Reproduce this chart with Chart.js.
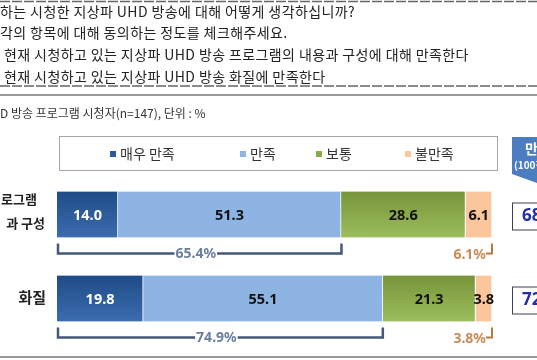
<!DOCTYPE html>
<html>
<head>
<meta charset="utf-8">
<script src="https://cdn.jsdelivr.net/npm/chart.js@4.4.1/dist/chart.umd.min.js"></script>
<style>
  html, body { margin: 0; padding: 0; background: #fff; }
  #wrap { position: relative; width: 537px; height: 360px; }
</style>
</head>
<body>
<div id="wrap"><canvas id="myChart" width="537" height="360"></canvas></div>
<script>
// data
const categories = ["프로그램 내용과 구성", "화질"];
const seriesNames = ["매우 만족", "만족", "보통", "불만족"];
const veryGood = [14.0, 19.8];
const good = [51.3, 55.1];
const normal = [28.6, 21.3];
const bad = [6.1, 3.8];
const satisfiedTotal = [65.4, 74.9];
const unsatisfiedTotal = [6.1, 3.8];
const scores = ["68", "72"];

const colors = ["#2b5a98", "#8eb4e3", "#8aab48", "#fbc69b"];
const labelColors = ["#fff", "#111", "#111", "#111"];
const KR = "'Noto Sans CJK KR', 'Noto Sans', sans-serif";

// gradient per bar (top darker, bottom lighter) for the dark blue and green parts
function barFill(i) {
  return function (ctx) {
    const chart = ctx.chart;
    const y = chart.scales && chart.scales.y;
    if (!y || ctx.dataIndex === undefined || (i !== 0 && i !== 2)) return colors[i];
    const cy = y.getPixelForValue(ctx.dataIndex);
    if (!isFinite(cy)) return colors[i];
    const g = chart.ctx.createLinearGradient(0, cy - 23, 0, cy + 23);
    if (i === 0) {
      g.addColorStop(0, "#1f4c88");
      g.addColorStop(1, "#3b6cae");
    } else {
      g.addColorStop(0, "#76953a");
      g.addColorStop(1, "#9cbd5c");
    }
    return g;
  };
}

const seriesData = [veryGood, good, normal, bad];
const datasets = seriesData.map((d, i) => ({
  label: seriesNames[i],
  data: d,
  backgroundColor: barFill(i),
  borderColor: "#ffffff",
  borderWidth: { right: 1, left: 0, top: 0, bottom: 0 },
  borderSkipped: false,
  barThickness: 46,
}));

function dashed(ctx, y) {
  ctx.save();
  ctx.strokeStyle = "#666";
  ctx.lineWidth = 1.5;
  ctx.setLineDash([10, 2]);
  ctx.beginPath();
  ctx.moveTo(0, y);
  ctx.lineTo(537, y);
  ctx.stroke();
  ctx.restore();
}

const decor = {
  id: "decor",
  beforeDraw(chart) {
    const ctx = chart.ctx;
    ctx.save();
    ctx.fillStyle = "#fff";
    ctx.fillRect(0, 0, chart.width, chart.height);

    // question text
    dashed(ctx, 1.5);
    ctx.fillStyle = "#222";
    ctx.font = "14px " + KR;
    ctx.letterSpacing = "0.4px";
    ctx.textBaseline = "middle";
    ctx.textAlign = "left";
    ctx.fillText("하는 시청한 지상파 UHD 방송에 대해 어떻게 생각하십니까?", 0, 12);
    ctx.fillText("각의 항목에 대해 동의하는 정도를 체크해주세요.", 0, 33);
    ctx.fillText("현재 시청하고 있는 지상파 UHD 방송 프로그램의 내용과 구성에 대해 만족한다", 4, 55);
    ctx.fillText("현재 시청하고 있는 지상파 UHD 방송 화질에 만족한다", 4, 77);
    ctx.letterSpacing = "0px";
    dashed(ctx, 86);

    ctx.fillStyle = "#999";
    ctx.fillRect(0, 94, 537, 2);
    ctx.fillRect(0, 356, 537, 2);

    // subtitle
    ctx.fillStyle = "#333";
    ctx.font = "12px " + KR;
    ctx.fillText("D 방송 프로그램 시청자(n=147), 단위 : %", 0, 113);

    // legend box
    ctx.strokeStyle = "#a6a6a6";
    ctx.lineWidth = 1;
    ctx.strokeRect(59.5, 136.5, 438, 34);
    const legendX = [110, 240, 316, 405];
    ctx.font = "14px " + KR;
    seriesNames.forEach((n, i) => {
      ctx.fillStyle = colors[i];
      ctx.fillRect(legendX[i], 151, 6, 6);
      ctx.fillStyle = "#333";
      ctx.fillText(n, legendX[i] + 10, 154);
    });

    // category labels
    ctx.font = "bold 13px " + KR;
    ctx.fillStyle = "#222";
    ctx.textAlign = "right";
    ctx.fillText("로그램", 37, 199);
    ctx.fillText("과 구성", 45, 223);
    ctx.font = "bold 15px " + KR;
    ctx.fillText("화질", 46, 297);

    // right side header
    ctx.fillStyle = "#4b7dc0";
    ctx.beginPath();
    ctx.moveTo(512, 137);
    ctx.lineTo(537, 137);
    ctx.lineTo(537, 183);
    ctx.lineTo(512, 174);
    ctx.closePath();
    ctx.fill();
    ctx.fillStyle = "#fff";
    ctx.textAlign = "left";
    ctx.font = "bold 14px " + KR;
    ctx.fillText("만족도", 525, 149);
    ctx.font = "bold 10px " + KR;
    ctx.fillText("(100점 만점)", 514, 165);
    ctx.restore();
  },
  afterDatasetsDraw(chart) {
    const ctx = chart.ctx;
    const x = chart.scales.x;
    ctx.save();
    ctx.textBaseline = "middle";
    ctx.textAlign = "center";
    // values inside bars
    chart.data.datasets.forEach((ds, i) => {
      chart.getDatasetMeta(i).data.forEach((bar, j) => {
        ctx.fillStyle = labelColors[i];
        ctx.font = "bold 14.5px 'Noto Sans', sans-serif";
        ctx.fillText(ds.data[j].toFixed(1), (bar.x + bar.base) / 2, bar.y + 1);
      });
    });

    const meta = chart.getDatasetMeta(0);
    meta.data.forEach((bar, j) => {
      const yLine = bar.y + bar.height / 2 + 16;
      const x0 = x.getPixelForValue(0) + 1;
      const x1 = x.getPixelForValue(satisfiedTotal[j]);
      // satisfied bracket
      ctx.strokeStyle = "#44587a";
      ctx.lineWidth = 2.5;
      ctx.beginPath();
      ctx.moveTo(x0, yLine - 10);
      ctx.lineTo(x0, yLine);
      ctx.lineTo(x1, yLine);
      ctx.lineTo(x1, yLine - 10);
      ctx.stroke();
      const txt = satisfiedTotal[j].toFixed(1) + "%";
      ctx.font = "bold 14px 'Noto Sans', sans-serif";
      const w = ctx.measureText(txt).width;
      const cx = (x0 + x1) / 2 - 4;
      ctx.fillStyle = "#fff";
      ctx.fillRect(cx - w / 2 - 1, yLine - 6, w + 2, 10);
      ctx.fillStyle = "#6b7f9f";
      ctx.fillText(txt, cx, yLine + 1);

      // unsatisfied bracket
      const xe = x.getPixelForValue(100);
      ctx.strokeStyle = "#b87a44";
      ctx.lineWidth = 2;
      ctx.beginPath();
      ctx.moveTo(xe - 6, yLine);
      ctx.lineTo(xe, yLine);
      ctx.lineTo(xe, yLine - 10);
      ctx.stroke();
      ctx.fillStyle = "#c98b57";
      ctx.textAlign = "right";
      ctx.fillText(unsatisfiedTotal[j].toFixed(1) + "%", xe - 6, yLine + 2);
      ctx.textAlign = "center";

      // score box
      ctx.strokeStyle = "#3a3f55";
      ctx.lineWidth = 1;
      ctx.strokeRect(512.5, bar.y - 11.5, 40, 27);
      ctx.fillStyle = "#1f2fb0";
      ctx.font = "bold 17px 'Noto Sans', sans-serif";
      ctx.textAlign = "left";
      ctx.fillText(scores[j], 522, bar.y + 2);
      ctx.textAlign = "center";
    });
    ctx.restore();
  },
};

const config = {
  type: "bar",
  data: { labels: categories, datasets: datasets },
  options: {
    indexAxis: "y",
    responsive: false,
    animation: false,
    devicePixelRatio: 1,
    layout: { padding: { left: 57, right: 45, top: 172.5, bottom: 19.5 } },
    scales: {
      x: { stacked: true, min: 0, max: 100, display: false },
      y: { stacked: true, display: false },
    },
    plugins: { legend: { display: false }, tooltip: { enabled: false } },
  },
  plugins: [decor],
};

const myChart = new Chart(document.getElementById("myChart"), config);
</script>
</body>
</html>
